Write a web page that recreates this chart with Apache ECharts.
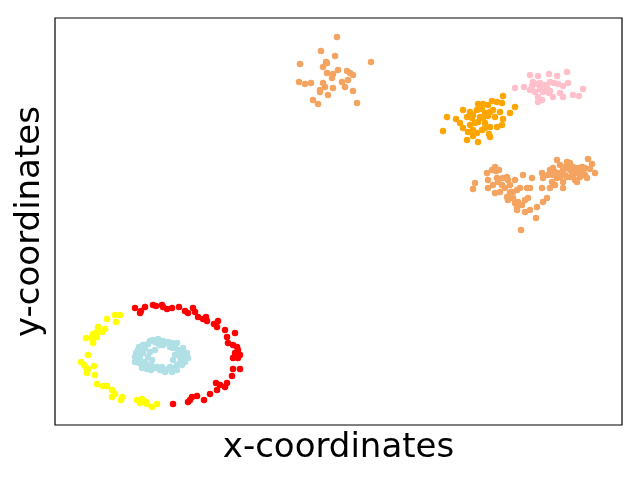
<!DOCTYPE html>
<html>
<head>
    <meta charset="utf-8">
    <style type="text/css">
        html,body { margin: 0px; padding: 0px; height: 100%; background: #fff; }
    </style>
    <script src="https://cdn.jsdelivr.net/npm/echarts@6/dist/echarts.min.js"></script>
</head>
<body>
    <div id="chart" style="width: 640px; height: 480px;"></div>
    <script type="text/javascript">
        // points, [x, y]
        var redPoints = [[80,117],[85,112],[86,114],[90,118],[98,120],[101,119],[107,120],[108,118],[112,116],[117,117],
            [124,118],[130,114],[133,112],[138,117],[140,113],[143,108],[148,106],[151,108],[152,104],[159,101],
            [163,104],[162,98],[170,95],[180,92],[172,88],[173,82],[178,80],[182,78],[183,75],[180,72],
            [185,70],[178,67],[183,67],[178,56],[185,56],[177,49],[161,42],[165,40],[170,38],[172,42],
            [162,35],[155,31],[149,25],[142,29],[137,28],[135,25],[133,23],[118,21]];
        var yellowPoints = [[60,110],[65,110],[52,106],[61,103],[43,98],[50,96],[42,93],[38,91],[47,93],[37,88],
            [42,88],[31,87],[38,84],[38,82],[33,70],[26,63],[29,60],[31,57],[33,56],[32,52],
            [39,59],[40,50],[42,41],[48,39],[52,39],[57,35],[60,31],[67,28],[57,28],[66,25],
            [82,25],[87,26],[85,22],[91,23],[92,21],[97,18],[102,21]];
        var bluePoints = [[98,85],[103,86],[108,84],[113,83],[122,82],[105,80],[93,81],[88,80],[90,77],[83,75],
            [81,72],[80,68],[85,67],[80,63],[87,60],[87,57],[92,56],[97,59],[102,58],[107,58],
            [110,53],[117,53],[115,58],[122,60],[125,62],[130,63],[133,67],[132,72],[128,77],[123,75],
            [118,77],[115,78],[100,75],[95,73],[93,68],[97,65],[120,70],[125,68],[130,70],[127,60],
            [112,82],[102,82],[118,65],[88,72],[90,63],[125,73],[122,55],
            [84,78],[86,74],[83,70],[84,62],[95,84],[100,83],[106,82],[117,82],[120,79],[127,74],
            [131,66],[129,63],[96,55],[100,57],[105,55],[113,56],[119,57],[92,60],[108,80],[118,80]];
        var sandyTopPoints = [[282,388],[266,374],[280,369],[245,361],[316,363],[271,363],[268,358],[272,362],[272,352],[278,351],
            [283,355],[292,354],[295,352],[298,350],[277,347],[287,343],[293,345],[290,338],[278,337],[244,343],
            [250,341],[256,342],[268,342],[270,338],[265,335],[265,333],[273,330],[298,334],[258,325],[263,321],
            [302,322]];
        var sandyRightPoints = [[420,242],[418,236],[432,252],[437,255],[440,258],[441,254],[444,255],[433,245],[433,237],[438,240],
            [442,247],[443,243],[447,240],[448,247],[452,248],[453,245],[440,232],[445,233],[450,237],[455,240],
            [460,245],[468,250],[477,247],[452,228],[455,232],[458,233],[462,235],[465,237],[453,225],[458,227],
            [460,222],[463,223],[462,218],[467,220],[470,225],[473,227],[472,237],[475,237],[462,215],[470,213],
            [475,215],[482,218],[481,207],[488,223],[492,227],[466,195],[456,233],
            [487,252],[488,247],[487,237],[495,255],[498,257],[502,265],[505,260],[512,263],[515,262],[508,255],
            [513,257],[518,258],[523,257],[527,258],[530,257],[533,266],[537,261],[540,252],[532,247],[528,253],
            [525,248],[522,252],[517,253],[515,248],[520,245],[512,248],[505,248],[502,247],[508,243],[500,240],
            [497,243],[495,237],[508,237],[522,243],[493,250],[505,252],[502,250],[510,250],[518,250],[525,255],
            [510,258],[515,255],[520,256],[527,251],[530,250],[535,256],[498,250],[500,253]];
        var orangePoints = [[448,329],[437,324],[442,323],[447,322],[460,318],[423,321],[428,321],[433,320],[408,315],[415,313],
            [422,315],[427,316],[430,312],[435,313],[438,315],[445,313],[455,312],[392,308],[401,306],[405,302],
            [412,308],[417,307],[418,310],[425,308],[428,307],[433,309],[440,308],[448,306],[408,297],[415,300],
            [420,302],[423,303],[430,302],[435,298],[442,298],[447,300],[388,294],[413,293],[418,295],[422,292],
            [427,295],[430,297],[434,291],[435,288],[412,285],[423,283],[418,289]];
        var pinkPoints = [[475,350],[483,349],[494,351],[502,349],[512,353],[478,343],[482,341],[477,339],[485,342],[490,340],
            [495,343],[499,342],[503,341],[508,339],[513,342],[460,337],[469,338],[475,335],[480,333],[485,336],
            [488,333],[492,337],[495,334],[494,332],[483,328],[487,325],[483,323],[498,328],[505,332],[508,328],
            [518,330],[524,329],[528,336]];

        var xName = 'x-coordinates';
        var yName = 'y-coordinates';

        var myChart = echarts.init(document.getElementById('chart'));

        function dots(data, color) {
            return {
                type: 'scatter',
                data: data,
                symbolSize: 6.5,
                itemStyle: { color: color, opacity: 1 },
                silent: true,
                animation: false
            };
        }

        var option = {
            backgroundColor: '#fff',
            animation: false,
            grid: {
                left: 55, right: 18, top: 18, bottom: 55,
                show: true, borderColor: '#000', borderWidth: 1.2
            },
            xAxis: {
                type: 'value', min: 0, max: 567,
                name: xName, nameLocation: 'middle', nameGap: 6,
                nameTextStyle: { fontFamily: 'DejaVu Sans', fontSize: 34, color: '#000', verticalAlign: 'top' },
                axisLine: { show: false }, axisTick: { show: false },
                axisLabel: { show: false }, splitLine: { show: false }
            },
            yAxis: {
                type: 'value', min: 0, max: 407,
                name: yName, nameLocation: 'middle', nameGap: 8,
                nameTextStyle: { fontFamily: 'DejaVu Sans', fontSize: 34, color: '#000', verticalAlign: 'bottom' },
                axisLine: { show: false }, axisTick: { show: false },
                axisLabel: { show: false }, splitLine: { show: false }
            },
            series: [
                dots(redPoints, '#ff0000'),
                dots(yellowPoints, '#ffff00'),
                dots(bluePoints, '#b0e0e6'),
                dots(sandyTopPoints, '#f4a460'),
                dots(sandyRightPoints, '#f4a460'),
                dots(orangePoints, '#ffa500'),
                dots(pinkPoints, '#ffc0cb')
            ]
        };

        myChart.setOption(option);
    </script>
</body>
</html>
